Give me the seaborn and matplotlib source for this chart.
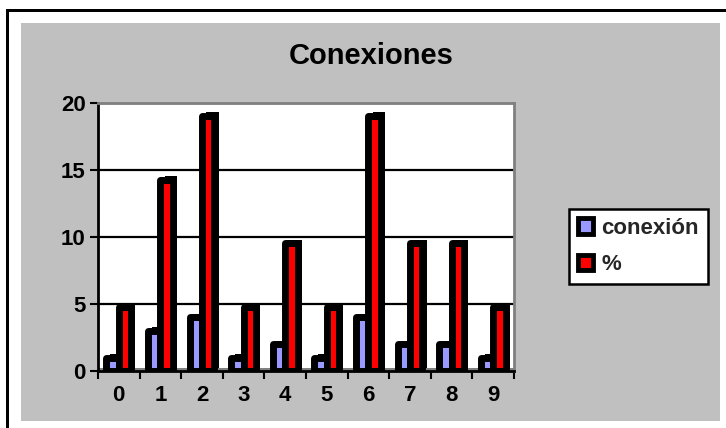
import matplotlib
matplotlib.use("Agg")
import matplotlib.pyplot as plt
import matplotlib.patheffects as pe
from matplotlib.patches import Rectangle, Patch
from matplotlib.ticker import MultipleLocator, FixedLocator
import seaborn as sns
import pandas as pd

# Connection counts per category and their share in percent
categories = ["0", "1", "2", "3", "4", "5", "6", "7", "8", "9"]
conexion = [1, 3, 4, 1, 2, 1, 4, 2, 2, 1]
porcentaje = [4.76, 14.29, 19.05, 4.76, 9.52, 4.76, 19.05, 9.52, 9.52, 4.76]
series_names = ["conexión", "%"]
series_colors = ["#9999ff", "#ff0000"]
title = "Conexiones"

df = pd.DataFrame({
    "categoria": categories * 2,
    "valor": conexion + porcentaje,
    "serie": [series_names[0]] * len(categories) + [series_names[1]] * len(categories),
})

sns.set_theme(style="white")
plt.rcParams["font.family"] = ["Liberation Sans", "DejaVu Sans"]
plt.rcParams["font.weight"] = "bold"

W, H = 726, 428
fig = plt.figure(figsize=(W / 100, H / 100), dpi=100, facecolor="white")

def fx(px):
    return px / W

def fy(py):
    return 1 - py / H

# chart frame: grey chart area with black top and left rules
fig.patches.append(Rectangle((fx(21), fy(421)), fx(720) - fx(21), fy(23) - fy(421),
                             transform=fig.transFigure, facecolor="#c0c0c0",
                             edgecolor="none", zorder=-2))
fig.patches.append(Rectangle((fx(6), fy(12)), 1 - fx(6), fy(9) - fy(12),
                             transform=fig.transFigure, facecolor="black",
                             edgecolor="none", zorder=-1))
fig.patches.append(Rectangle((fx(6), 0), fx(9) - fx(6), fy(9),
                             transform=fig.transFigure, facecolor="black",
                             edgecolor="none", zorder=-1))

left, right, top, bottom = 98, 514, 103, 371
ax = fig.add_axes([fx(left), fy(bottom), fx(right) - fx(left), fy(top) - fy(bottom)])
ax.set_zorder(5)
ax.set_facecolor("white")

sns.barplot(data=df, x="categoria", y="valor", hue="serie", hue_order=series_names,
            palette=dict(zip(series_names, series_colors)), width=0.6,
            edgecolor="black", linewidth=5, saturation=1, legend=False, ax=ax)

# thick dark side/top faces give the bars their depth
shadow = [pe.SimplePatchShadow(offset=(3, 2.5), shadow_rgbFace="black", alpha=1.0),
          pe.Normal()]
for bar in ax.patches:
    bar.set_joinstyle("round")
    bar.set_path_effects(shadow)
    bar.set_zorder(3)

# floor of the plot
ax.axhspan(0, 0.22, color="#808080", zorder=2, lw=0)

ax.set_ylim(0, 20)
ax.set_xlim(-0.5, len(categories) - 0.5)
ax.yaxis.set_major_locator(MultipleLocator(5))
ax.yaxis.grid(True, color="black", lw=1.6)
ax.xaxis.grid(False)
ax.set_axisbelow(True)

ax.set_xlabel("")
ax.set_ylabel("")
ax.set_xticks(range(len(categories)))
ax.set_xticklabels(categories)
ax.xaxis.set_minor_locator(FixedLocator([i - 0.5 for i in range(len(categories) + 1)]))
ax.tick_params(axis="x", which="major", length=0, pad=10, labelsize=16)
ax.tick_params(axis="x", which="minor", length=6, width=1.5, color="black",
               direction="out", bottom=True)
ax.tick_params(axis="y", which="major", length=6, width=1.5, color="black",
               direction="out", left=True, pad=3, labelsize=16)
for lab in ax.get_xticklabels() + ax.get_yticklabels():
    lab.set_fontweight("bold")
    lab.set_color("black")

for side in ("top", "right"):
    ax.spines[side].set_color("#808080")
    ax.spines[side].set_linewidth(2)
for side in ("left", "bottom"):
    ax.spines[side].set_color("black")
    ax.spines[side].set_linewidth(2)

fig.text(fx(371), fy(56), title, ha="center", va="center",
         fontsize=21, fontweight="bold", color="black")

handles = [Patch(facecolor=c, edgecolor="black", linewidth=3.5) for c in series_colors]
leg = fig.legend(handles, series_names, loc="upper left",
                 bbox_to_anchor=(fx(569), fy(209)), frameon=True, fancybox=False,
                 edgecolor="black", facecolor="white", framealpha=1,
                 prop={"size": 16, "weight": "bold"}, handlelength=0.7,
                 handleheight=0.7, handletextpad=0.35, borderpad=0.4,
                 labelspacing=0.7, borderaxespad=0)
leg.get_frame().set_linewidth(1.8)

fig.savefig("out.png", dpi=100, facecolor="white")
